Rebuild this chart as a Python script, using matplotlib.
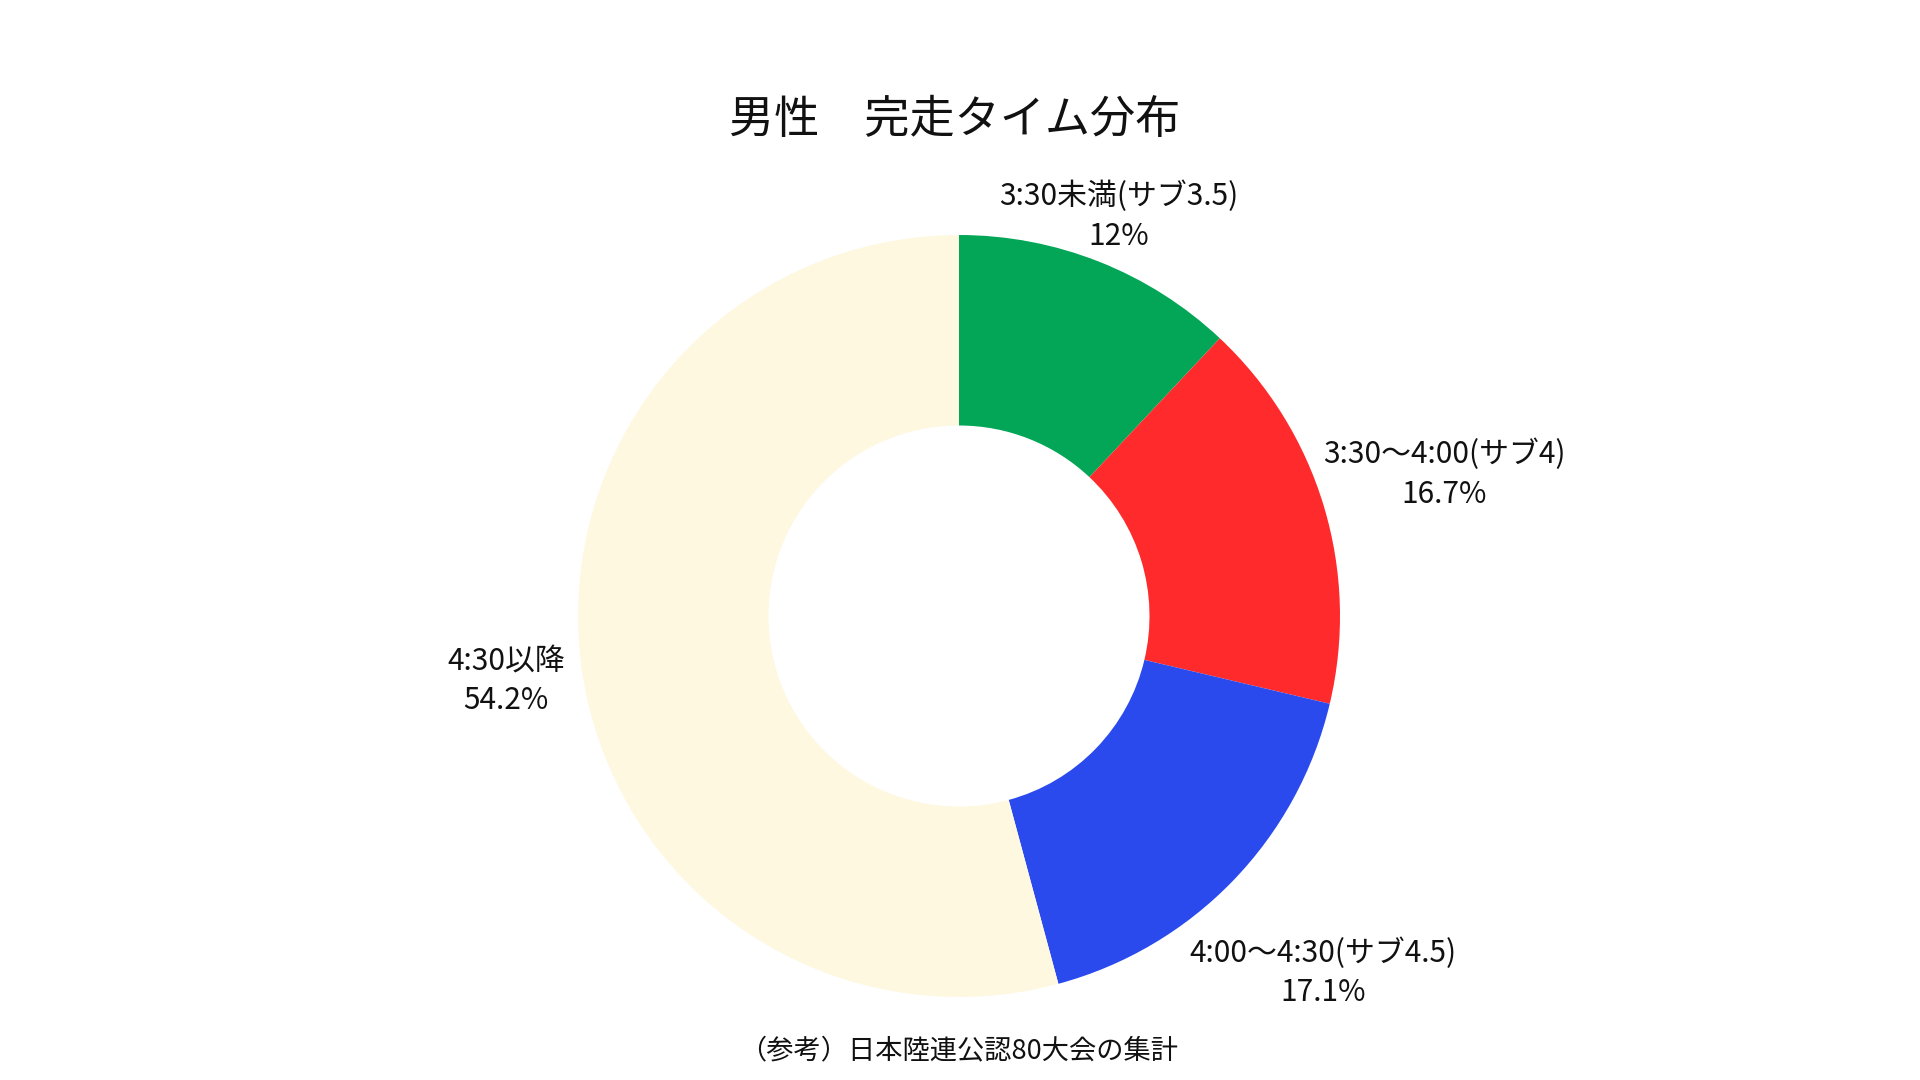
import numpy as np
import matplotlib
matplotlib.use("Agg")
import matplotlib.pyplot as plt

plt.rcParams['font.family'] = ['Noto Sans CJK JP', 'DejaVu Sans']

categories = ["3:30未満(サブ3.5)", "3:30〜4:00(サブ4)", "4:00〜4:30(サブ4.5)", "4:30以降"]
values = [12.0, 16.7, 17.1, 54.2]
value_labels = ["12%", "16.7%", "17.1%", "54.2%"]
colors = ["#03A557", "#FF2A2B", "#2A4AED", "#FEF8E1"]
label_radius = [1.14, 1.33, 1.33, 1.20]

title = "男性　完走タイム分布"
footer = "（参考）日本陸連公認80大会の集計"

W, H, DPI = 19.2, 10.8, 100
cx, cy, R = 959, 616, 381  # pixel center and outer radius

fig = plt.figure(figsize=(W, H), dpi=DPI)
ax = fig.add_axes([0, 0, 1, 1])

wedges, _ = ax.pie(values, colors=colors, startangle=90, counterclock=False,
                   radius=1.0, wedgeprops=dict(width=0.5, linewidth=0))

ax.set_xlim(-cx / R, (W * DPI - cx) / R)
ax.set_ylim(-(H * DPI - cy) / R, cy / R)
ax.set_aspect('equal', adjustable='box')
ax.axis('off')

for w, cat, vl, rf in zip(wedges, categories, value_labels, label_radius):
    mid = np.deg2rad((w.theta1 + w.theta2) / 2)
    ax.annotate(f"{cat}\n{vl}", xy=(rf * np.cos(mid), rf * np.sin(mid)),
                xytext=(0, -3), textcoords='offset points',
                ha='center', va='center', fontsize=21.5, linespacing=1.35, color='#111111')

fig.text(955 / (W * DPI), 1 - 120 / (H * DPI), title, ha='center', va='center',
         fontsize=32.5, color='#111111')
fig.text(959 / (W * DPI), 1 - 1051 / (H * DPI), footer, ha='center', va='center',
         fontsize=19.6, color='#111111')

fig.savefig("out.png", dpi=DPI)
